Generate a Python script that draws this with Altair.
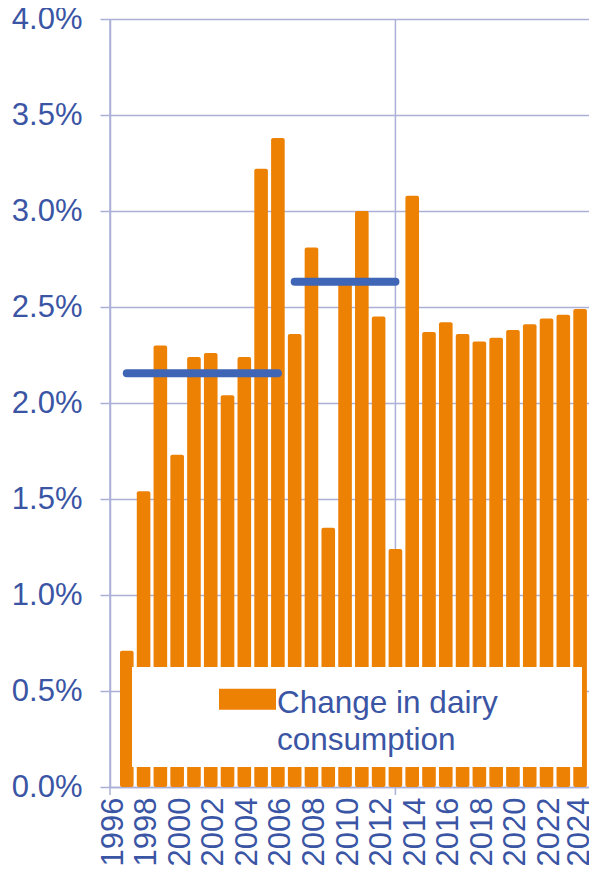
import altair as alt
import pandas as pd

# ---- data ----
years = [1997, 1998, 1999, 2000, 2001, 2002, 2003, 2004, 2005, 2006,
         2007, 2008, 2009, 2010, 2011, 2012, 2013, 2014, 2015, 2016,
         2017, 2018, 2019, 2020, 2021, 2022, 2023, 2024, 2025]
change = [0.71, 1.54, 2.30, 1.73, 2.24, 2.26, 2.04, 2.24, 3.22, 3.38,
          2.36, 2.81, 1.35, 2.63, 3.00, 2.45, 1.24, 3.08, 2.37, 2.42,
          2.36, 2.32, 2.34, 2.38, 2.41, 2.44, 2.46, 2.49, 2.52]
series_name = "Change in dairy consumption"
legend_lines = ["Change in dairy", "consumption"]

avg_start = [1997, 2007]
avg_end = [2006, 2013]
avg_value = [2.155, 2.632]

marker_years = [1996, 2013]
marker_top = [4.0, 4.0]
marker_bottom = [-0.042, -0.042]

x_ticks = [1996, 1998, 2000, 2002, 2004, 2006, 2008, 2010, 2012,
           2014, 2016, 2018, 2020, 2022, 2024]
y_ticks = [0.0, 0.5, 1.0, 1.5, 2.0, 2.5, 3.0, 3.5, 4.0]

# ---- styles ----
FONT = "Liberation Sans"
TEXT = "#3B55A5"
GRID = "#AAB0D6"
ORANGE = "#EC8104"
BLUE = "#3F65B7"

bars_df = pd.DataFrame({"year": years, "value": change, "series": series_name})
avg_df = pd.DataFrame({"start": avg_start, "end": avg_end, "value": avg_value})
marker_df = pd.DataFrame({"year": marker_years, "top": marker_top, "bottom": marker_bottom})

# plot area is cut at the right edge of the picture (as in the reference)
x_scale = alt.Scale(domain=[1996, 2024.53], nice=False, zero=False, padding=0)
y_scale = alt.Scale(domain=[0, 4], nice=False, zero=True)

x_axis = alt.Axis(
    title=None, values=x_ticks, format="d", labelAngle=-90, ticks=False, tickSize=0,
    labelPadding=10,
    labelOffset=alt.condition("datum.value >= 2024", alt.value(-1), alt.value(3)),
    grid=False, domainColor=GRID,
    domainWidth=1.5, labelFont=FONT, labelFontSize=31, labelColor=TEXT,
    labelOverlap=False, labelFlush=False,
)
y_axis = alt.Axis(
    title=None, values=y_ticks, labelExpr="format(datum.value, '.1f') + '%'",
    tickSize=10, tickColor=GRID, tickWidth=1.5, labelPadding=18,
    grid=True, gridColor=GRID, gridWidth=1.5, domainColor=GRID,
    domainWidth=1.5, labelFont=FONT, labelFontSize=31, labelColor=TEXT,
    labelOverlap=False, labelFlush=False,
)

markers = alt.Chart(marker_df).mark_rule(color=GRID, strokeWidth=1.5).encode(
    x=alt.X("year:Q", scale=x_scale, axis=x_axis, title=None),
    y=alt.Y("top:Q", scale=y_scale, axis=y_axis, title=None),
    y2="bottom:Q",
)

bars = alt.Chart(bars_df).mark_bar(width=13.6, cornerRadius=2).encode(
    x=alt.X("year:Q", scale=x_scale, axis=x_axis, title=None),
    y=alt.Y("value:Q", scale=y_scale, axis=y_axis, stack=None, title=None),
    color=alt.Color(
        "series:N",
        scale=alt.Scale(domain=[series_name], range=[ORANGE]),
        legend=alt.Legend(
            title=None, orient="none", legendX=109, legendY=649,
            padding=0, symbolType="M-1,0.04H1.85V1.09H-1Z", symbolSize=1600,
            symbolStrokeWidth=0, symbolOpacity=1, symbolOffset=0,
            labelOffset=18, labelFont=FONT, labelFontSize=31.5, labelColor=TEXT,
            labelLimit=1000, labelBaseline="top",
            labelExpr="['" + legend_lines[0] + "', '" + legend_lines[1] + "']",
        ),
    ),
)

avg = alt.Chart(avg_df).mark_rule(color=BLUE, strokeWidth=8, strokeCap="round").encode(
    x=alt.X("start:Q", scale=x_scale, axis=x_axis, title=None),
    x2="end:Q",
    y=alt.Y("value:Q", scale=y_scale, axis=y_axis, title=None),
)

# white background panel of the legend (drawn over the bars, as in the reference)
legend_box = alt.Chart(pd.DataFrame({"series": [series_name]})).mark_rect(
    color="white"
).encode(
    x=alt.value(22), x2=alt.value(472), y=alt.value(648), y2=alt.value(748)
)

chart = alt.layer(markers, bars, avg, legend_box).properties(
    width=479,
    height=768,
    autosize=alt.AutoSizeParams(type="none"),
    padding={"left": 102, "top": 11, "right": 0, "bottom": 79},
).configure_view(strokeWidth=0, stroke="transparent").configure(
    background="white", style={"guide-label": {"lineHeight": 37}}
)

chart.save("out.html", embed_options={"renderer": "svg", "actions": False})
